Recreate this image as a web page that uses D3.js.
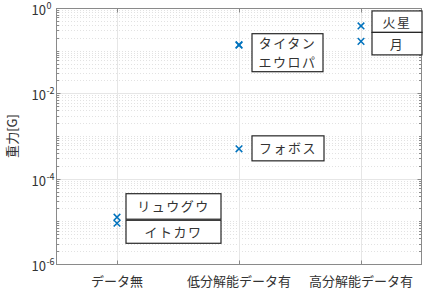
<!DOCTYPE html>
<html><head><meta charset="utf-8">
<script src="https://cdn.jsdelivr.net/npm/d3@7"></script>
<style>
body{margin:0;background:#fff;}
text{font-family:"Noto Sans CJK JP","Noto Sans",sans-serif;}
</style></head>
<body><svg id="c" width="428" height="292"></svg>
<script>
const categories = ["データ無", "低分解能データ有", "高分解能データ有"];
const bodies = ["リュウグウ", "イトカワ", "タイタン", "エウロパ", "フォボス", "火星", "月"];
const bodyCategory = [0, 0, 1, 1, 1, 2, 2];
const gravityG = [1.25e-5, 9.0e-6, 0.138, 0.134, 5.0e-4, 0.38, 0.165];
const yTickExps = [0, -2, -4, -6];
// annotation boxes: [lines, anchor body index, dx, dy, width, height]
const labelBoxes = [
  [["リュウグウ"], 0, 9, -23.5, 95, 25.5],
  [["イトカワ"], 1, 9, -3, 95, 23],
  [["タイタン","エウロパ"], 2, 13, -11, 71, 38],
  [["フォボス"], 4, 13, -13, 72, 25],
  [["火星"], 5, 11, -15, 50, 21.5],
  [["月"], 6, 11, -9, 50, 22.5]
];

const svg = d3.select("#c");
const L = 56, R = 422, T = 8, B = 264;
const x = d3.scaleLinear().domain([0.5, 3.5]).range([L, R]);
const y = d3.scaleLog().domain([1e-6, 1]).range([B, T]);

const g = svg.append("g");
// minor grid
const minor = [];
for (let e = -6; e < 0; e++) for (let m = 1; m <= 9; m++) {
  const v = m * Math.pow(10, e);
  if (m === 1 && e % 2 === 0) continue;
  minor.push(v);
}
g.selectAll(".mg").data(minor).enter().append("line")
  .attr("x1", L).attr("x2", R)
  .attr("y1", d => Math.round(y(d)) + 0.5).attr("y2", d => Math.round(y(d)) + 0.5)
  .attr("stroke", "#e2e2e2").attr("stroke-width", 1).attr("stroke-dasharray", "1,2");
// major grid
const major = yTickExps.map(e => Math.pow(10, e));
g.selectAll(".Mg").data(major).enter().append("line")
  .attr("x1", L).attr("x2", R)
  .attr("y1", d => Math.round(y(d)) + 0.5).attr("y2", d => Math.round(y(d)) + 0.5)
  .attr("stroke", "#e6e6e6");
g.selectAll(".xg").data(categories).enter().append("line")
  .attr("x1", (d, i) => Math.round(x(i + 1)) + 0.5).attr("x2", (d, i) => Math.round(x(i + 1)) + 0.5)
  .attr("y1", T).attr("y2", B).attr("stroke", "#e6e6e6");

// axes box
const axc = "#8a8a8a";
g.append("rect").attr("x", L + 0.5).attr("y", T + 0.5).attr("width", R - L - 1).attr("height", B - T)
  .attr("fill", "none").attr("stroke", axc);
// ticks
[L + 0.5, R - 0.5].forEach((xx, side) => {
  const dir = side === 0 ? 1 : -1;
  g.selectAll(null).data(minor).enter().append("line")
    .attr("x1", xx).attr("x2", xx + dir * 2.5)
    .attr("y1", d => Math.round(y(d)) + 0.5).attr("y2", d => Math.round(y(d)) + 0.5)
    .attr("stroke", axc);
  g.selectAll(null).data(major).enter().append("line")
    .attr("x1", xx).attr("x2", xx + dir * 4)
    .attr("y1", d => Math.round(y(d)) + 0.5).attr("y2", d => Math.round(y(d)) + 0.5)
    .attr("stroke", axc);
});
[T + 0.5, B + 0.5].forEach((yy, side) => {
  const dir = side === 0 ? 1 : -1;
  g.selectAll(null).data(categories).enter().append("line")
    .attr("x1", (d, i) => Math.round(x(i + 1)) + 0.5).attr("x2", (d, i) => Math.round(x(i + 1)) + 0.5)
    .attr("y1", yy).attr("y2", yy + dir * 4).attr("stroke", axc);
});

// y tick labels
const yl = g.selectAll(".yl").data(yTickExps).enter().append("text")
  .attr("x", 46).attr("y", d => y(Math.pow(10, d)) + 7)
  .attr("text-anchor", "end").attr("font-size", 13).attr("fill", "#333");
yl.text("10");
g.selectAll(".ys").data(yTickExps).enter().append("text")
  .attr("x", 46.5).attr("y", d => y(Math.pow(10, d)) + 1)
  .attr("font-size", 9).attr("fill", "#333").text(d => String(d));

// x tick labels
g.selectAll(".xl").data(categories).enter().append("text")
  .attr("x", (d, i) => x(i + 1)).attr("y", 286)
  .attr("text-anchor", "middle").attr("font-size", 13).attr("fill", "#333").text(d => d);

// y label
g.append("text").attr("transform", "translate(17,136) rotate(-90)")
  .attr("text-anchor", "middle").attr("font-size", 13).attr("fill", "#333").text("重力[G]");

// markers
const s = 3.3;
g.selectAll(".mk").data(gravityG).enter().append("path")
  .attr("d", (d, i) => {
    const cx = x(bodyCategory[i] + 1), cy = y(d);
    return `M${cx - s},${cy - s}L${cx + s},${cy + s}M${cx - s},${cy + s}L${cx + s},${cy - s}`;
  })
  .attr("stroke", "#0072BD").attr("stroke-width", 1.5).attr("fill", "none");

// label boxes
labelBoxes.forEach(([lines, bi, dx, dy, w, h]) => {
  const px = x(bodyCategory[bi] + 1) + dx, py = y(gravityG[bi]) + dy;
  g.append("rect").attr("x", px).attr("y", py).attr("width", w).attr("height", h)
    .attr("fill", "#fff").attr("stroke", "#262626").attr("stroke-width", 1.2);
  const lh = h / lines.length;
  lines.forEach((t, k) => {
    g.append("text").attr("x", px + w / 2).attr("y", py + lh * k + lh / 2 + 5)
      .attr("text-anchor", "middle").attr("font-size", 13).attr("letter-spacing", 1.5)
      .attr("fill", "#333").text(t);
  });
});
</script></body></html>
